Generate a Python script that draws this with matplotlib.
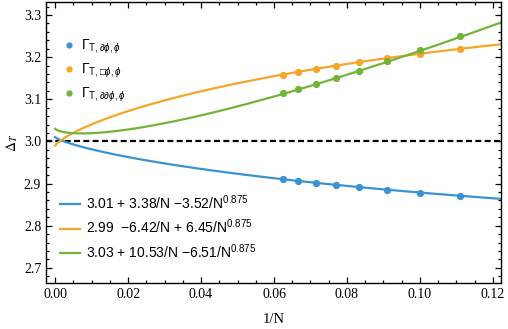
import numpy as np
import matplotlib
matplotlib.use("Agg")
import matplotlib.pyplot as plt
from matplotlib.ticker import MultipleLocator
from matplotlib.lines import Line2D

# data
inv_n = [1/16, 1/15, 1/14, 1/13, 1/12, 1/11, 1/10, 1/9]
gamma_d = [2.910, 2.906, 2.901, 2.896, 2.891, 2.885, 2.878, 2.871]
gamma_box = [3.158, 3.165, 3.172, 3.180, 3.188, 3.197, 3.208, 3.220]
gamma_dd = [3.115, 3.124, 3.136, 3.151, 3.168, 3.190, 3.216, 3.250]

# fit coefficients from the legend: a + b/N + c/N^0.875
fit_a = [3.01, 2.99, 3.03]
fit_b = [3.38, -6.42, 10.53]
fit_c = [-3.52, 6.45, -6.51]
fit_p = 0.875

point_labels = [r'$\Gamma_{\mathrm{T},\partial\phi,\phi}$',
                '$\\Gamma_{\\mathrm{T},\u25a1\\phi,\\phi}$',
                r'$\Gamma_{\mathrm{T},\partial\partial\phi,\phi}$']
fit_labels = [r'3.01 + 3.38/N $-$3.52/N$^{0.875}$',
              r'2.99  $-$6.42/N + 6.45/N$^{0.875}$',
              r'3.03 + 10.53/N $-$6.51/N$^{0.875}$']

colors = ['#3a93d0', '#f5a52a', '#72b43a']

plt.rcParams['font.family'] = ['Liberation Serif', 'DejaVu Serif']
plt.rcParams['mathtext.fontset'] = 'custom'
plt.rcParams['mathtext.rm'] = 'Liberation Sans'
plt.rcParams['mathtext.it'] = 'Liberation Sans:italic'
plt.rcParams['mathtext.bf'] = 'Liberation Sans:bold'
plt.rcParams['mathtext.sf'] = 'Liberation Sans'
plt.rcParams['mathtext.fallback'] = 'stixsans'

fig = plt.figure(figsize=(5.08, 3.29), dpi=100)
ax = fig.add_axes([0.0906, 0.140, 0.8954, 0.854])

xs = np.linspace(0, 0.1225, 400)
series = [gamma_d, gamma_box, gamma_dd]
for i in range(3):
    ys = fit_a[i] + fit_b[i] * xs + fit_c[i] * xs ** fit_p
    ax.plot(xs, ys, color=colors[i], lw=1.6, zorder=2)
    ax.plot(inv_n, series[i], 'o', color=colors[i], ms=4.2, zorder=3)

ax.axhline(3.0, color='black', lw=1.6, ls=(0, (2.7, 1.5)), zorder=1)

ax.set_xlim(-0.0025, 0.1222)
ax.set_ylim(2.664, 3.331)
ax.xaxis.set_major_locator(MultipleLocator(0.02))
ax.xaxis.set_minor_locator(MultipleLocator(0.005))
ax.yaxis.set_major_locator(MultipleLocator(0.1))
ax.yaxis.set_minor_locator(MultipleLocator(0.02))
ax.xaxis.set_major_formatter(matplotlib.ticker.FormatStrFormatter('%.2f'))
ax.yaxis.set_major_formatter(matplotlib.ticker.FormatStrFormatter('%.1f'))
ax.tick_params(which='both', direction='in', top=True, right=True, labelsize=10, width=0.9)
ax.tick_params(which='major', length=4.5)
ax.tick_params(which='minor', length=2.5)
for s in ax.spines.values():
    s.set_linewidth(1.0)

ax.set_xlabel('1/N', fontsize=10.5, labelpad=9)
ax.set_ylabel(r'$\Delta_T$', fontsize=10, math_fontfamily='stix', labelpad=3)

# legend 1: markers only
h1 = [Line2D([], [], ls='none', marker='o', color=c, ms=3.5) for c in colors]
leg1 = ax.legend(h1, point_labels, loc='upper left', bbox_to_anchor=(0.038, 0.872),
                 frameon=False, borderpad=0, borderaxespad=0, handlelength=0.8,
                 handletextpad=0.5, labelspacing=0.4,
                 prop={'family': 'Liberation Sans', 'size': 10})
ax.add_artist(leg1)

# legend 2: fit curves
h2 = [Line2D([], [], color=c, lw=1.6) for c in colors]
ax.legend(h2, fit_labels, loc='upper left', bbox_to_anchor=(0.03, 0.32),
          frameon=False, borderpad=0, borderaxespad=0, handlelength=1.45,
          handletextpad=0.45, labelspacing=0.45,
          prop={'family': 'Liberation Sans', 'size': 10})

fig.savefig('out.png', dpi=100)
